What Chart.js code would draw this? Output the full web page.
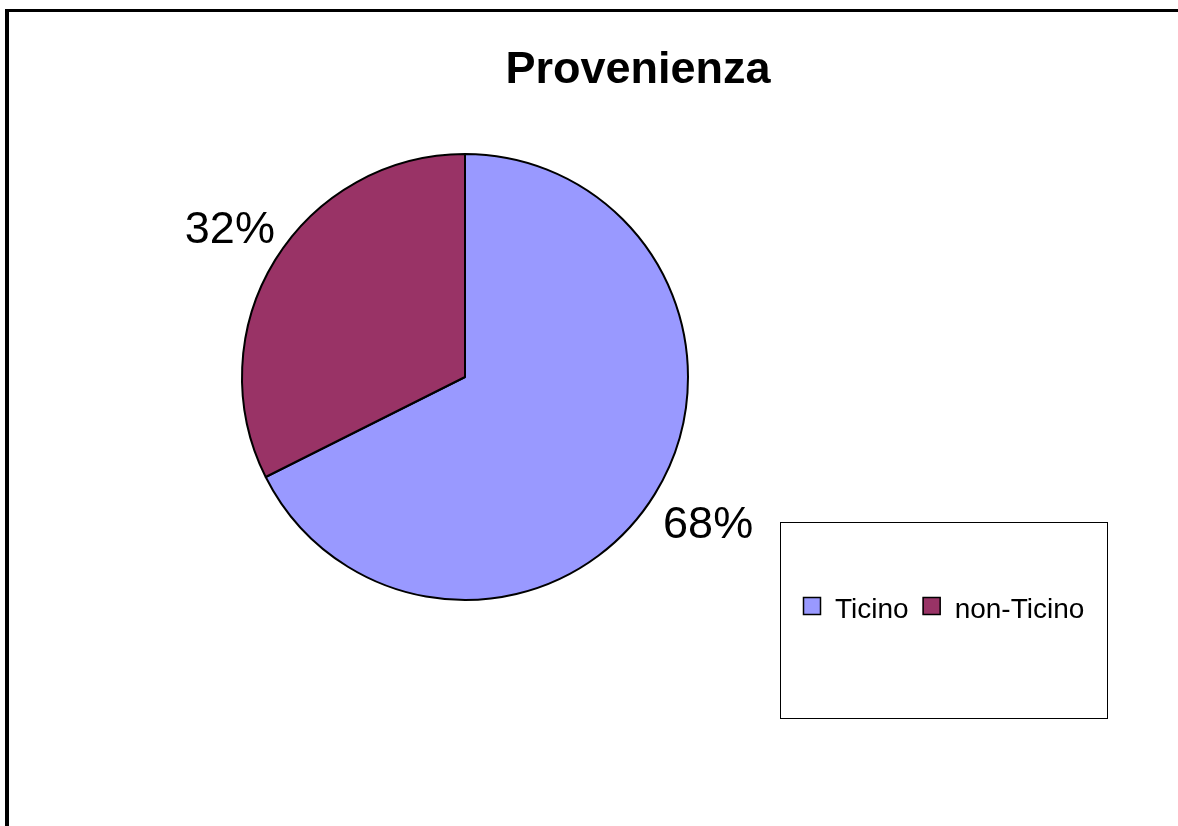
<!DOCTYPE html>
<html>
<head>
<meta charset="utf-8">
<script src="https://cdn.jsdelivr.net/npm/chart.js@4"></script>
<style>
    html, body { margin: 0; padding: 0; background: #ffffff; }
    #wrap { position: relative; width: 1178px; height: 826px; }
</style>
</head>
<body>
<div id="wrap"><canvas id="pieChart" width="1178" height="826"></canvas></div>
<script>
const chartTitle = 'Provenienza';
const categories = ['Ticino', 'non-Ticino'];
const shares = [67.6, 32.4];
const sliceColors = ['#9999FF', '#993366'];

const FONT = '"Liberation Sans", Arial, sans-serif';

// frame, title, outside percent labels and the boxed legend
const decorations = {
    id: 'decorations',
    beforeDraw(chart) {
        const c = chart.ctx;
        c.save();
        c.fillStyle = '#ffffff';
        c.fillRect(0, 0, chart.width, chart.height);
        c.fillStyle = '#000000';
        c.fillRect(5, 9, 4, chart.height - 9);
        c.fillRect(5, 9, chart.width - 5, 3);
        c.restore();
    },
    afterDraw(chart) {
        const c = chart.ctx;
        c.save();

        c.fillStyle = '#000000';
        c.font = 'bold 45px ' + FONT;
        c.textAlign = 'center';
        c.textBaseline = 'alphabetic';
        c.fillText(chartTitle, 638, 83);

        // percent labels outside the slices
        const meta = chart.getDatasetMeta(0);
        const total = shares.reduce((a, b) => a + b, 0);
        c.font = '45px ' + FONT;
        c.textBaseline = 'middle';
        meta.data.forEach((arc, i) => {
            const p = arc.getProps(['x', 'y', 'startAngle', 'endAngle', 'outerRadius'], true);
            const mid = (p.startAngle + p.endAngle) / 2;
            const r = p.outerRadius + 58;
            const pct = Math.round(shares[i] / total * 100) + '%';
            c.fillText(pct, p.x + Math.cos(mid) * r + 4, p.y + Math.sin(mid) * r + 1);
        });

        // legend box
        c.lineWidth = 1;
        c.strokeStyle = '#000000';
        c.strokeRect(780.5, 522.5, 327, 196);
        c.font = '28px ' + FONT;
        c.textAlign = 'left';
        c.textBaseline = 'alphabetic';
        let x = 803;
        categories.forEach((name, i) => {
            c.fillStyle = sliceColors[i];
            c.fillRect(x, 597, 18, 18);
            c.strokeStyle = '#000000';
            c.lineWidth = 1.5;
            c.strokeRect(x + 0.5, 597.5, 17, 17);
            c.fillStyle = '#000000';
            c.fillText(name, x + 32, 618);
            x += 32 + c.measureText(name).width + 14;
        });

        c.restore();
    }
};

const ctx = document.getElementById('pieChart').getContext('2d');

const chart = new Chart(ctx, {
    type: 'pie',
    data: {
        labels: categories,
        datasets: [{
            data: shares,
            backgroundColor: sliceColors,
            borderColor: '#000000',
            borderWidth: 2
        }]
    },
    options: {
        responsive: false,
        animation: false,
        radius: 223,
        layout: {
            padding: { left: 240, right: 488, top: 152, bottom: 224 }
        },
        plugins: {
            legend: { display: false },
            title: { display: false },
            tooltip: { enabled: false }
        }
    },
    plugins: [decorations]
});
</script>
</body>
</html>
